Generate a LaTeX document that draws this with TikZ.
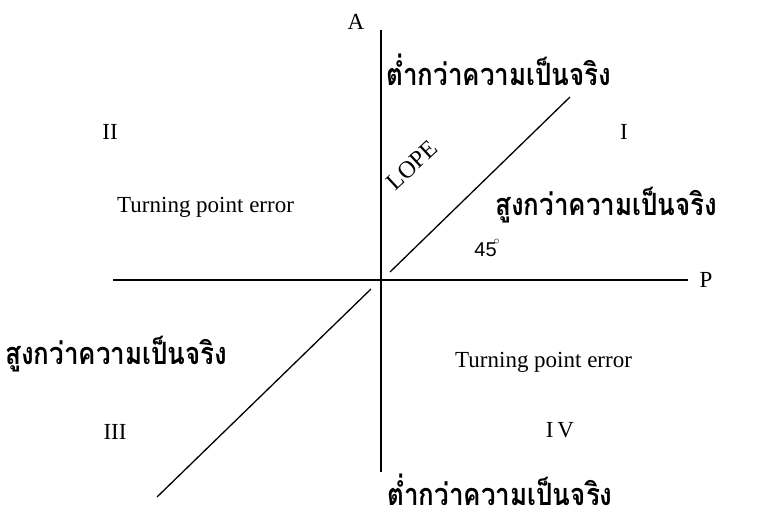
\documentclass[tikz,border=0pt]{standalone}
\usepackage{fontspec}
\setmainfont{Liberation Serif}
\newfontfamily\thaifont[Script=Thai]{Loma}
\newfontfamily\sansf{Liberation Sans}
\newcommand{\thaitext}[1]{\scalebox{1.0}[1.18]{\thaifont\bfseries #1}}
\begin{document}
\begin{tikzpicture}[x=1pt,y=-1pt,
  thai/.style={font=\fontsize{26}{30}\selectfont, inner sep=0pt},
  lat/.style={font=\fontsize{23}{27}\selectfont, inner sep=0pt},
  roman/.style={font=\fontsize{23}{27}\selectfont, inner sep=0pt},
  axisline/.style={line width=2.2pt},
  diagline/.style={line width=1.3pt}]
\useasboundingbox (0,0) rectangle (782,519);
\coordinate (Atop) at (381,30);
\coordinate (Abot) at (381,472);
\coordinate (Pl) at (113,280);
\coordinate (Pr) at (688,280);
\coordinate (D1s) at (390,272);
\coordinate (D1e) at (570,97);
\coordinate (D2s) at (371,289);
\coordinate (D2e) at (157,497);
\draw[axisline] (Atop) -- (Abot);
\draw[axisline] (Pl) -- (Pr);
\draw[diagline] (D1s) -- (D1e);
\draw[diagline] (D2s) -- (D2e);
\node[lat] (A) at (356,22) {A};
\node[lat] (P) at (706,280) {P};
\node[thai, anchor=west] (top) at (386,70) {\thaitext{ต่ำกว่าความเป็นจริง}};
\node[roman] (q2) at (110,132) {II};
\node[roman] (q1) at (624,132) {I};
\node[lat, anchor=west] (tpe1) at (117,207) {Turning point error};
\node[inner sep=0pt, rotate=43, font=\fontsize{24}{28}\selectfont] (lope) at (412,165) {LOPE};
\node[thai, anchor=west] (right) at (495,205) {\thaitext{สูงกว่าความเป็นจริง}};
\node[inner sep=0pt, font=\sansf\fontsize{20}{24}\selectfont] (deg) at (487,248) {45\raisebox{1.1ex}{\kern-0.15em\fontsize{12}{12}\selectfont$\circ$}};
\node[thai, anchor=west] (left) at (5,354) {\thaitext{สูงกว่าความเป็นจริง}};
\node[lat, anchor=west] (tpe2) at (455,362) {Turning point error};
\node[roman] (q3) at (115,432) {III};
\node[roman] (q4) at (560,430) {I\,V};
\node[thai] (bot) at (500,490) {\thaitext{ต่ำกว่าความเป็นจริง}};
\end{tikzpicture}
\end{document}
